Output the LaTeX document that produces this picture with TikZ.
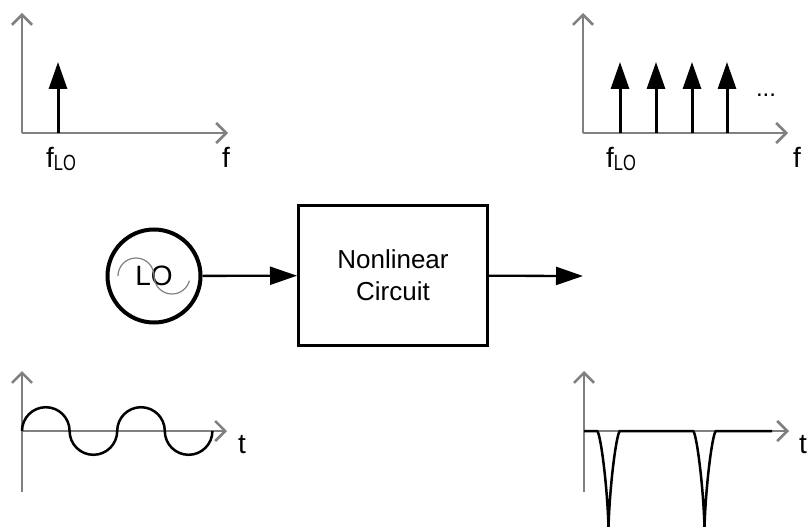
\documentclass[tikz,border=0pt]{standalone}
\usepackage{fontspec}
\setmainfont{Liberation Sans}
\usepackage{graphicx}
\usepackage{tikz}
\usetikzlibrary{arrows.meta,%
                shapes,positioning}

\definecolor{AxisGray}{RGB}{128,128,128}

\begin{document}
\begin{tikzpicture}[x=1pt, y=-1pt]
  \tikzset{AxisStyle/.style = {draw=AxisGray,
                               line width = 2.6pt,
                               -{Straight Barb[length=10pt, width=20pt]}}}
  \tikzset{SpikeStyle/.style = {draw=black,
                                line width = 3pt,
                                -{Triangle[length=27pt, width=18pt]}}}
  \tikzset{WireStyle/.style = {draw=black,
                               line width = 2.3pt,
                               -{Triangle[length=27pt, width=18pt]}}}
  \tikzset{LabelStyle/.style = {inner sep=0pt, anchor=base west,
                                font=\fontsize{28}{32}\selectfont}}
  \newcommand{\fLO}{f{\fontsize{22}{22}\selectfont\raisebox{-3pt}{\scalebox{0.75}[1]{LO}}}}
  \useasboundingbox (0,0) rectangle (809,527);

	%%% SPECTRE LO %%%
	\coordinate (o1) at (22,133);
	\draw[AxisStyle] (o1) -- (22,13);
	\draw[AxisStyle] (o1) -- (228,133);
	\coordinate (s1) at (58,133);
	\draw[SpikeStyle] (s1) -- ++(0,-71);
	\node[LabelStyle] (flo1) at (46,167) {\fLO};
	\node[LabelStyle] (f1) at (222,167) {f};

	%%% SPECTRE SORTIE %%%
	\coordinate (o2) at (583,133);
	\draw[AxisStyle] (o2) -- (583,13);
	\draw[AxisStyle] (o2) -- (788,133);
	\foreach \sx in {620,656,692,727}
	  \draw[SpikeStyle] (\sx,133) -- (\sx,62);
	\node[inner sep=0pt, anchor=base, font=\fontsize{24}{24}\selectfont] (dots) at (766,96) {...};
	\node[LabelStyle] (flo2) at (606,167) {\fLO};
	\node[LabelStyle] (f2) at (793,167) {f};

	%%% OSCILLATEUR + CIRCUIT %%%
	\node[circle, draw, line width=4pt, minimum size=93pt, inner sep=0pt,
	      font=\fontsize{28}{32}\selectfont] (lo) at (154,276) {LO};
	\draw[AxisGray, line width=1.2pt] (118,276) arc[start angle=180, end angle=0, radius=18pt]
	      arc[start angle=180, end angle=345, radius=18pt];
	\node[rectangle, draw, line width=3pt, minimum width=189pt, minimum height=140pt,
	      align=center, font=\fontsize{26}{32}\selectfont] (nl) at (393,275.5) {Nonlinear\\Circuit};
	\coordinate (out) at (583,276);
	\draw[WireStyle] (lo) -- (nl);
	\draw[WireStyle] (nl) -- (out);

	%%% SIGNAL LO %%%
	\coordinate (o3) at (22,431);
	\draw[AxisStyle] (22,492) -- (22,371);
	\draw[AxisStyle] (o3) -- (227,431);
	\draw[line width=2.5pt] (o3) arc[start angle=180, end angle=0, radius=23.8pt]
	      arc[start angle=180, end angle=360, radius=23.8pt]
	      arc[start angle=180, end angle=0, radius=23.8pt]
	      arc[start angle=180, end angle=360, radius=23.8pt];
	\node[LabelStyle] (t1) at (238,453) {t};

	%%% SIGNAL SORTIE %%%
	\coordinate (o4) at (584,431);
	\draw[AxisStyle] (584,492) -- (584,371);
	\draw[AxisStyle] (o4) -- (789,431);
	\draw[line width=2.5pt] (o4) -- (597,431)
	      .. controls (600,431) and (607,480) .. (608.5,527)
	      .. controls (610,480) and (617,431) .. (620,431) -- (693,431)
	      .. controls (696,431) and (703,480) .. (704.5,527)
	      .. controls (706,480) and (713,431) .. (716,431) -- (772,431);
	\node[LabelStyle] (t2) at (799,453) {t};
\end{tikzpicture}
\end{document}
